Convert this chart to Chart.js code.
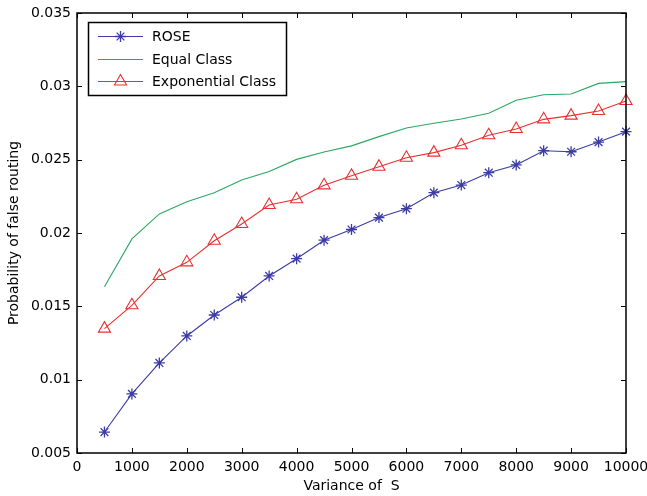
<!DOCTYPE html>
<html>
<head>
<meta charset="utf-8">
<style>
html,body{margin:0;padding:0;background:#fff;}
#wrap{width:647px;height:496px;}
</style>
<script src="https://cdn.jsdelivr.net/npm/chart.js@4"></script>
</head>
<body>
<div id="wrap"><canvas id="c" width="647" height="496"></canvas></div>
<script>
const xValues = [500,1000,1500,2000,2500,3000,3500,4000,4500,5000,5500,6000,6500,7000,7500,8000,8500,9000,9500,10000];
const roseValues = [0.00643,0.00903,0.01114,0.01298,0.01441,0.01562,0.01707,0.01825,0.01951,0.02024,0.02105,0.02166,0.02275,0.02327,0.02411,0.02464,0.02561,0.02554,0.02620,0.02691];
const equalValues = [0.01634,0.01960,0.02130,0.02213,0.02275,0.02361,0.02420,0.02502,0.02552,0.02594,0.02657,0.02716,0.02748,0.02777,0.02816,0.02905,0.02943,0.02948,0.03020,0.03032];
const expValues = [0.01348,0.01507,0.01707,0.01800,0.01947,0.02061,0.02191,0.02230,0.02325,0.02390,0.02452,0.02513,0.02548,0.02598,0.02666,0.02709,0.02775,0.02800,0.02832,0.02900];
const seriesLabels = ['ROSE','Equal Class','Exponential Class'];
const xTickStep = 1000, xMin = 0, xMax = 10000;
const yTickStep = 0.005, yMin = 0.005, yMax = 0.035;

const FONT = 'DejaVu Sans';
const toPts = (ys) => ys.map((y,i)=>({x:xValues[i], y}));

const boxTicks = {
  id:'boxTicks',
  afterDraw(chart){
    const {ctx, chartArea:a, scales:{x,y}} = chart;
    ctx.save();
    ctx.strokeStyle='#000';
    ctx.lineWidth=1;
    const L=5;
    ctx.beginPath();
    x.ticks.forEach(t=>{
      const px=Math.round(x.getPixelForValue(t.value))+0.5;
      ctx.moveTo(px,a.bottom); ctx.lineTo(px,a.bottom-L);
      ctx.moveTo(px,a.top); ctx.lineTo(px,a.top+L);
    });
    y.ticks.forEach(t=>{
      const py=Math.round(y.getPixelForValue(t.value))+0.5;
      ctx.moveTo(a.left,py); ctx.lineTo(a.left+L,py);
      ctx.moveTo(a.right,py); ctx.lineTo(a.right-L,py);
    });
    ctx.stroke();
    ctx.lineWidth=1.5;
    ctx.strokeRect(a.left,a.top,a.right-a.left,a.bottom-a.top);
    // legend
    const lx=88.5, ly=22.5, lw=198, lh=73;
    ctx.fillStyle='#fff';
    ctx.fillRect(lx,ly,lw,lh);
    ctx.lineWidth=1.5;
    ctx.strokeRect(lx,ly,lw,lh);
    const rows=[36,59,81];
    chart.data.datasets.forEach((ds,i)=>{
      const ry=rows[i]+0.5;
      ctx.strokeStyle=ds.borderColor;
      ctx.lineWidth=ds.borderWidth;
      ctx.beginPath(); ctx.moveTo(98,ry); ctx.lineTo(143,ry); ctx.stroke();
      if(ds.pointStyle && ds.pointRadius>0){
        ctx.save();
        ctx.strokeStyle=ds.pointBorderColor;
        ctx.fillStyle=ds.pointBackgroundColor;
        ctx.lineWidth=ds.pointBorderWidth;
        Chart.helpers.drawPoint(ctx,{pointStyle:ds.pointStyle,radius:ds.pointRadius,borderWidth:ds.pointBorderWidth,rotation:0},120.5,ry);
        ctx.restore();
      }
      ctx.fillStyle='#000';
      ctx.font='14px "'+FONT+'"';
      ctx.textBaseline='middle';
      ctx.textAlign='left';
      ctx.fillText(ds.label,152,ry+1);
    });
    ctx.restore();
  }
};

new Chart(document.getElementById('c'),{
  type:'line',
  data:{datasets:[
    {label:seriesLabels[0],data:toPts(roseValues),borderColor:'#3c3ca4',backgroundColor:'#3c3ca4',borderWidth:1.1,pointStyle:'star',pointRadius:5.5,pointBorderWidth:1.3,pointBorderColor:'#3c3ca4',pointBackgroundColor:'#3c3ca4',tension:0,clip:false},
    {label:seriesLabels[1],data:toPts(equalValues),borderColor:'#2aa862',backgroundColor:'#2aa862',borderWidth:1.1,pointRadius:0,pointStyle:false,tension:0,clip:false},
    {label:seriesLabels[2],data:toPts(expValues),borderColor:'#e83030',backgroundColor:'rgba(0,0,0,0)',borderWidth:1.1,pointStyle:'triangle',pointRadius:7,pointBorderWidth:1.1,pointBorderColor:'#e83030',pointBackgroundColor:'rgba(0,0,0,0)',tension:0,clip:false}
  ]},
  options:{
    responsive:false,
    animation:false,
    devicePixelRatio:1,
    layout:{padding:{left:0,right:21,top:13,bottom:0}},
    plugins:{legend:{display:false},tooltip:{enabled:false}},
    scales:{
      x:{type:'linear',min:xMin,max:xMax,
        ticks:{stepSize:xTickStep,color:'#000',font:{family:FONT,size:14},padding:6,maxRotation:0,autoSkip:false,callback:v=>String(v)},
        grid:{display:false,drawTicks:false},border:{display:false},
        title:{display:true,text:'Variance of  S',color:'#000',font:{family:FONT,size:14},padding:{top:0,bottom:1}},
        afterFit(s){s.height=43;s.paddingLeft=0;s.paddingRight=0;}
      },
      y:{type:'linear',min:yMin,max:yMax,
        ticks:{stepSize:yTickStep,color:'#000',font:{family:FONT,size:14},padding:6,callback:v=>String(parseFloat(v.toFixed(3)))},
        grid:{display:false,drawTicks:false},border:{display:false},
        title:{display:true,text:'Probability of false routing',color:'#000',font:{family:FONT,size:14},padding:{top:6,bottom:0}},
        afterFit(s){s.width=77;s.paddingTop=0;s.paddingBottom=0;}
      }
    }
  },
  plugins:[boxTicks]
});
</script>
</body>
</html>
